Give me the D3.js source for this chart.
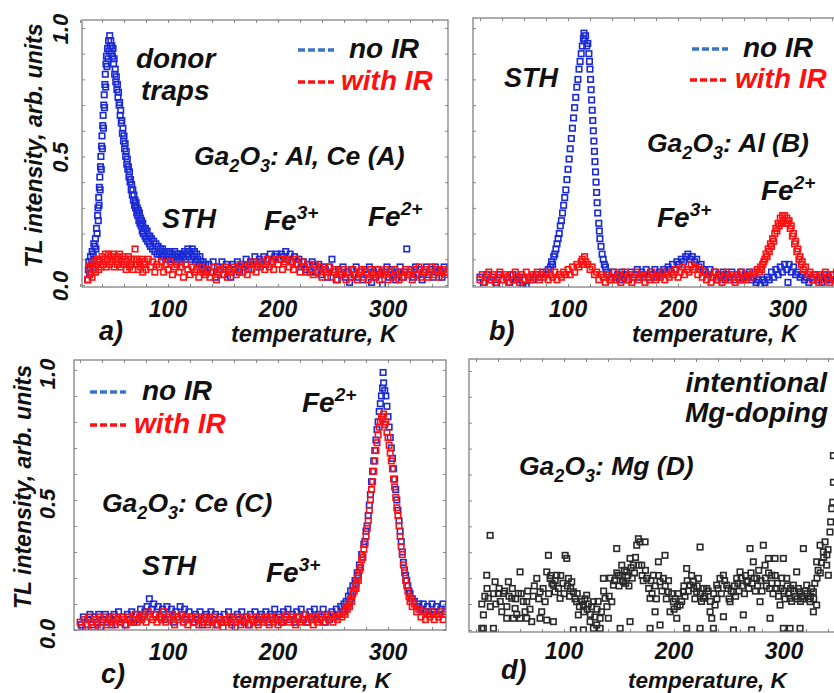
<!DOCTYPE html>
<html>
<head>
<meta charset="utf-8">
<script src="https://cdn.jsdelivr.net/npm/d3@7/dist/d3.min.js"></script>
<style>
  body { margin: 0; background: #fff; }
  svg { display: block; }
  .lbl { font-family: "Liberation Sans", Arial, sans-serif; font-weight: bold; font-style: italic; }
</style>
</head>
<body>
<svg id="chart" width="834" height="693"></svg>
<script>
// ---- tick values ----
const tempTicks = [100, 200, 300];
const intensityTicks = [0, 0.5, 1.0];

// ---- a) Ga2O3: Al, Ce (A)  [temperature K, TL intensity] ----
const noIrA = [
  [27,.02],[27.5,.06],[28,.09],[28.5,.04],[29,.07],[29.5,.11],[30,.05],[30.5,.09],[31,.13],[31.5,.08],[32,.12],[32.5,.16],[33,.1],[33.5,.15],[34,.18],[34.5,.14],
  [35,.22],[35.5,.2],[36,.27],[36.3,.3],[36.6,.25],[37,.34],[37.3,.31],[37.6,.38],[38,.42],[38.3,.37],[38.6,.46],[39,.5],[39.3,.45],[39.6,.54],[40,.58],[40.3,.53],
  [40.6,.62],[41,.66],[41.3,.61],[41.6,.7],[42,.74],[42.3,.69],[42.6,.78],[43,.82],[43.3,.77],[43.6,.86],[44,.89],[44.5,.85],[45,.92],[45.5,.88],[46,.95],[46.5,.91],
  [47,.97],[47.5,.93],[48,.95],[48.5,.9],[49,.93],[49.5,.89],[50,.92],[50.5,.86],[51,.88],[51.5,.82],[52,.84],[52.5,.79],[53,.81],[53.5,.76],[54,.78],[54.5,.73],
  [55,.75],[55.5,.7],[56,.71],[56.5,.66],[57,.68],[57.5,.63],[58,.64],[58.5,.59],[59,.61],[59.5,.56],[60,.58],[60.5,.53],[61,.55],[61.5,.5],[62,.52],[62.5,.47],
  [63,.49],[63.5,.45],[64,.46],[64.5,.42],[65,.44],[65.5,.4],[66,.41],[66.5,.37],[67,.39],[67.5,.35],[68,.37],[68.5,.33],[69,.35],[69.5,.31],[70,.33],[70.5,.3],
  [71,.32],[71.5,.28],[72,.3],[72.5,.27],[73,.29],[73.5,.25],[74,.28],[74.5,.24],[75,.26],[75.5,.23],[76,.25],[76.5,.21],[77,.24],[77.5,.2],[78,.22],[79,.19],
  [79.5,.22],[80,.18],[81,.21],[81.5,.17],[82,.19],[83,.16],[83.5,.19],[84,.15],[85,.18],[86,.14],[87,.17],[88,.13],[89,.16],[90,.12],[91,.15],[92,.12],
  [93,.14],[94,.11],[95,.14],[96,.11],[97,.13],[98,.1],[99,.13],[100,.1],[101,.12],[102,.13],[103,.1],[104,.12],[105,.1],[106,.13],[107,.11],[108,.09],
  [109,.12],[110,.1],[111,.12],[112,.09],[113,.12],[114,.11],[115,.13],[116,.1],[117,.12],[118,.14],[119,.11],[120,.13],[121,.1],[122,.14],[123,.11],[124,.13],
  [125,.09],[126,.12],[127,.1],[128,.08],[129,.11],[130,.09],[131,.07],[132,.09],[133,.06],[134,.08],[135,.05],
  [137,.08],[139,.05],[141,.09],[143,.03],[145,.07],[147,.06],[149,.09],[151,.04],[153,.08],[155,.06],[157,.03],[159,.08],[161,.06],[163,.09],[165,.05],[167,.08],
  [169,.07],[171,.1],[173,.06],[175,.09],[177,.08],[179,.11],[181,.07],[183,.1],[185,.09],[187,.11],[189,.08],[191,.1],[193,.12],[195,.09],[197,.11],[199,.12],
  [201,.1],[203,.12],[205,.11],[207,.13],[209,.1],[211,.12],[213,.09],[215,.11],[217,.08],[219,.1],[221,.07],[223,.09],[225,.06],[227,.08],[229,.05],[231,.09],
  [233,.07],[235,.05],[237,.08],[239,.04],[241,.07],[243,.06],[245,.03],[247,.07],[249,.1],[251,.05],[253,.02],[255,.06],[257,.04],[259,.07],[261,.03],[263,.05],
  [265,.01],[267,.06],[269,.04],[271,.07],[273,.03],[275,.05],[277,.02],[279,.06],[281,.04],[283,.07],[285,.01],[287,.05],[289,.03],[291,.06],[293,.04],[295,.0],
  [297,.05],[299,.07],[301,.03],[303,.06],[305,.04],[307,.02],[309,.05],[311,.07],[313,.03],[315,.05],[317,.14],[319,.04],[321,.06],[323,.03],[325,.07],[327,.04],
  [329,.06],[331,.02],[333,.05],[335,.07],[337,.04],[339,.06],[341,.03],[343,.07],[345,.05],[347,.06],[349,.03],[351,.07],[353,.05]
];
const irA = [
  [27,.02],[28,.07],[29,.04],[30,.08],[31,.03],[32,.06],[33,.09],[34,.05],[35,.08],[36,.1],[37,.06],[38,.09],[39,.07],[40,.11],[41,.08],[42,.1],
  [43,.12],[44,.07],[45,.1],[46,.12],[47,.08],[48,.11],[49,.09],[50,.12],[51,.07],[52,.1],[53,.11],[54,.08],[55,.1],[56,.12],[57,.07],[58,.09],
  [59,.11],[60,.08],[61,.1],[62,.06],[63,.09],[64,.11],[65,.07],[66,.1],[67,.08],[68,.06],[69,.1],[70,.14],[71,.08],[72,.1],[73,.06],[74,.09],
  [75,.07],[76,.1],[77,.05],[78,.08],[79,.09],[80,.06],[82,.1],[84,.07],[86,.09],[88,.05],[90,.08],[92,.07],[94,.09],[96,.05],[98,.08],[100,.06],
  [102,.09],[104,.04],[106,.07],[108,.08],[110,.05],[112,.07],[114,.03],[116,.08],[118,.06],[120,.04],[122,.07],[124,.05],[126,.06],[128,.03],[130,.07],[132,.05],
  [134,.04],[136,.06],[138,.03],[140,.05],[142,.07],[144,.02],[146,.05],[148,.06],[150,.04],[152,.07],[154,.03],[156,.06],[158,.05],[160,.07],[162,.04],[164,.06],
  [166,.08],[168,.05],[170,.07],[172,.04],[174,.08],[176,.06],[178,.09],[180,.05],[182,.08],[184,.07],[186,.09],[188,.06],[190,.1],[192,.07],[194,.09],[196,.06],
  [198,.1],[200,.08],[202,.1],[204,.06],[206,.09],[208,.1],[210,.07],[212,.09],[214,.06],[216,.1],[218,.08],[220,.05],[222,.09],[224,.07],[226,.05],[228,.08],
  [230,.06],[232,.04],[234,.08],[236,.05],[238,.07],[240,.03],[242,.06],[244,.05],[246,.07],[248,.03],[250,.05],[252,.06],[254,.02],[256,.05],[258,.04],[260,.06],
  [262,.02],[264,.05],[266,.03],[268,.06],[270,.04],[272,.02],[274,.05],[276,.06],[278,.03],[280,.05],[282,.02],[284,.06],[286,.04],[288,.03],[290,.06],[292,.02],
  [294,.05],[296,.04],[298,.06],[300,.02],[302,.05],[304,.03],[306,.06],[308,.04],[310,.02],[312,.05],[314,.03],[316,.06],[318,.04],[320,.05],[322,.02],[324,.06],
  [326,.04],[328,.07],[330,.03],[332,.05],[334,.06],[336,.03],[338,.05],[340,.07],[342,.04],[344,.06],[346,.03],[348,.05],[350,.06],[352,.04],[354,.05]
];

// ---- b) Ga2O3: Al (B) ----
const noIrB = [
  [20,.03],[23,.01],[26,.04],[29,.02],[32,.03],[35,.0],[38,.04],[41,.02],[44,.03],[47,.01],[50,.04],[53,.02],[56,.03],[59,.0],[62,-.005],[65,.03],
  [68,.02],[71,.04],[74,.03],[77,.05],[80,.04],[82,.06],[84,.07],[85,.09],[86,.08],[87,.11],[88,.12],[89,.14],[90,.16],[91,.18],[92,.2],[93,.23],
  [94,.25],[95,.28],[96,.31],[97,.34],[98,.37],[99,.41],[100,.45],[101,.49],[102,.53],[103,.57],[104,.61],[105,.65],[106,.69],[107,.73],[108,.77],[109,.8],
  [110,.84],[111,.87],[112,.9],[113,.93],[114,.96],[114.5,.98],[115,.95],[116,.97],[117,.93],[118,.94],[119,.9],[119.5,.87],[120,.84],[120.5,.8],[121,.76],[121.5,.72],
  [122,.68],[122.5,.64],[123,.6],[123.5,.56],[124,.52],[124.5,.48],[125,.44],[125.5,.4],[126,.36],[126.5,.32],[127,.28],[128,.24],[128.5,.21],[129,.18],[130,.15],[131,.12],
  [132,.1],[133,.08],[134,.07],[135,.05],[137,.04],
  [139,.02],[141,.05],[143,.03],[145,.04],[147,.02],[149,.05],[151,.03],[153,.04],[155,.02],[157,.05],[159,.03],[161,.04],[163,.06],[165,.03],[167,.05],[169,.04],
  [171,.06],[173,.03],[175,.05],[177,.04],[179,.06],[181,.03],[183,.05],[185,.04],[187,.06],[189,.05],[191,.07],[193,.06],[195,.08],[197,.06],[199,.09],[201,.08],
  [203,.1],[205,.09],[207,.11],[209,.12],[211,.1],[213,.11],[215,.09],[217,.1],[219,.07],[221,.08],[223,.06],[225,.05],[227,.04],[229,.06],[231,.03],[233,.05],
  [235,.02],[237,.04],[239,.03],[241,.05],[243,.02],[245,.04],[247,.03],[249,.05],[251,.02],[253,.04],[255,.03],[257,.05],[259,.02],[261,.04],[263,.03],[265,.05],
  [267,.02],[269,.03],[271,.01],[273,.02],[275,.0],[277,.02],[279,.01],[281,.03],[283,.02],[285,.05],[287,.03],[289,.06],[291,.04],[293,.07],[295,.05],[297,.08],
  [299,.06],[300,.01],[301,.08],[303,.05],[305,.07],[307,.04],[309,.05],[311,.03],[313,.04],[315,.02],[317,.03],[319,.01],[321,.03],[323,.02],[325,.04],[327,.02],
  [329,.03],[331,.01],[333,.04],[335,.02],[337,.03],[339,.02],[341,.04],[343,.02],[345,.03]
];
const irB = [
  [20,.02],[22,.04],[24,.01],[26,.03],[28,.05],[30,.02],[32,.04],[34,.01],[36,.03],[38,.05],[40,.02],[42,.04],[44,.03],[46,.01],[48,.04],[50,.02],
  [52,.05],[54,.03],[56,.01],[58,.04],[60,.02],[62,.05],[64,.03],[66,.02],[68,.04],[70,.03],[72,.05],[74,.02],[76,.04],[78,.03],[80,.05],[82,.02],
  [84,.04],[86,.03],[88,.05],[90,.02],[92,.04],[94,.03],[96,.05],[98,.04],[100,.06],[102,.04],[104,.07],[106,.05],[108,.08],[110,.07],[112,.09],[113,.1],
  [114,.08],[115,.11],[116,.09],[118,.08],[120,.06],[122,.07],[124,.04],[126,.05],[128,.02],[130,.04],[132,.03],[134,.01],[136,.04],[138,.02],[140,.03],[142,.05],
  [144,.02],[146,.04],[148,.01],[150,.03],[152,.05],[154,.02],[156,.04],[158,.01],[160,.03],[162,.05],[164,.02],[166,.04],[168,.03],[170,.01],[172,.04],[174,.02],
  [176,.05],[178,.03],[180,.02],[182,.04],[184,.03],[186,.05],[188,.02],[190,.04],[192,.03],[194,.05],[196,.04],[198,.06],[200,.03],[202,.05],[204,.07],[206,.04],
  [208,.06],[210,.05],[212,.08],[214,.06],[216,.07],[218,.04],[220,.06],[222,.03],[224,.05],[226,.02],[228,.04],[230,.01],[232,.03],[234,.05],[236,.02],[238,.04],
  [240,.01],[242,.03],[244,.05],[246,.02],[248,.04],[250,.03],[252,.01],[254,.04],[256,.02],[258,.05],[260,.03],[262,.02],[264,.04],[266,.03],[268,.05],[270,.04],
  [272,.06],[274,.05],[275,.07],[276,.06],[277,.08],[278,.09],[279,.1],[280,.12],[281,.11],[282,.14],[283,.13],[284,.16],[285,.15],[286,.18],[287,.17],[288,.2],
  [289,.22],[290,.21],[291,.24],[292,.23],[293,.26],[294,.24],[295,.27],[296,.25],[297,.27],[298,.24],[299,.26],[300,.24],[301,.25],[302,.22],[303,.23],[304,.19],
  [305,.2],[306,.16],[307,.17],[308,.13],[309,.14],[310,.1],[311,.11],[312,.08],[313,.09],[314,.06],[316,.07],[318,.04],[320,.05],[322,.02],[324,.04],[326,.03],
  [328,.01],[330,.04],[332,.02],[334,.05],[336,.03],[338,.01],[340,.04],[342,.02],[344,.05],[346,.03]
];

// ---- c) Ga2O3: Ce (C) ----
const noIrC = [
  [21,.02],[23,.05],[25,.0],[27,.04],[29,.06],[31,.02],[33,.05],[35,.03],[37,.06],[39,.01],[41,.04],[43,.06],[45,.03],[47,.05],[49,.02],[51,.06],
  [53,.04],[55,.07],[57,.03],[59,.05],[61,.02],[63,.06],[65,.04],[67,.07],[69,.03],[71,.06],[73,.04],[75,.08],[77,.05],[79,.07],[81,.09],[83,.12],
  [85,.08],[87,.1],[89,.06],[91,.09],[93,.05],[95,.08],[97,.04],[99,.09],[101,.06],[103,.08],[105,.03],[107,.07],[109,.05],[111,.09],[113,.06],[115,.08],
  [117,.04],[119,.07],[121,.05],[123,.03],[125,.06],[127,.04],[129,.07],[131,.02],[133,.05],[135,.06],[137,.03],[139,.07],[141,.04],[143,.06],[145,.02],[147,.05],
  [149,.03],[151,.06],[153,.04],[155,.07],[157,.03],[159,.05],[161,.01],[163,.06],[165,.04],[167,.07],[169,.03],[171,.05],[173,.02],[175,.06],[177,.04],[179,.07],
  [181,.03],[183,.05],[185,.06],[187,.04],[189,.07],[191,.03],[193,.06],[195,.05],[197,.08],[199,.04],[201,.06],[203,.03],[205,.07],[207,.05],[209,.08],[211,.04],
  [213,.06],[215,.03],[217,.07],[219,.05],[221,.08],[223,.04],[225,.06],[227,.03],[229,.07],[231,.05],[233,.08],[235,.04],[237,.06],[239,.05],[241,.08],[243,.03],
  [245,.06],[247,.04],[249,.07],[251,.05],[253,.08],[255,.06],[257,.09],[259,.07],[260,.1],[261,.08],[262,.11],[263,.09],[264,.13],[265,.11],[266,.15],[267,.13],
  [268,.17],[269,.15],[270,.19],[271,.18],[272,.22],[273,.21],[274,.25],[275,.24],[276,.29],[277,.28],[278,.33],[279,.34],[280,.38],[281,.4],[282,.44],[283,.48],
  [284,.52],[285,.57],[286,.61],[287,.65],[288,.69],[289,.73],[290,.77],[291,.8],[292,.84],[293,.87],[294,.9],[295,.93],[295.5,.99],[296,.95],[297,.92],[298,.9],
  [299,.86],[300,.82],[301,.78],[302,.74],[303,.7],[304,.66],[305,.62],[306,.58],[307,.54],[308,.5],[309,.46],[310,.42],[311,.38],[312,.34],[313,.3],[314,.26],
  [315,.23],[316,.21],[317,.19],[318,.17],[319,.15],[320,.14],[322,.12],[324,.11],[326,.09],[328,.1],[330,.08],[332,.1],[334,.07],[336,.09],[338,.06],[340,.1],
  [342,.07],[344,.09],[346,.06],[348,.08],[350,.1],[352,.07]
];
const irC = [
  [20,.03],[22,.01],[24,.04],[26,.02],[28,.05],[30,.03],[32,.01],[34,.04],[36,.02],[38,.05],[40,.03],[42,.05],[44,.02],[46,.04],[48,.03],[50,.05],
  [52,.02],[54,.04],[56,.03],[58,.05],[60,.04],[62,.02],[64,.05],[66,.03],[68,.04],[70,.06],[72,.03],[74,.05],[76,.04],[78,.06],[80,.03],[82,.07],
  [84,.05],[86,.04],[88,.06],[90,.03],[92,.05],[94,.04],[96,.07],[98,.03],[100,.05],[102,.04],[104,.06],[106,.02],[108,.05],[110,.04],[112,.06],[114,.03],
  [116,.05],[118,.02],[120,.04],[122,.05],[124,.03],[126,.05],[128,.02],[130,.04],[132,.03],[134,.05],[136,.02],[138,.04],[140,.03],[142,.05],[144,.02],[146,.04],
  [148,.03],[150,.01],[152,.04],[154,.03],[156,.05],[158,.02],[160,.04],[162,.03],[164,.05],[166,.02],[168,.04],[170,.03],[172,.05],[174,.02],[176,.04],[178,.03],
  [180,.05],[182,.02],[184,.04],[186,.03],[188,.05],[190,.04],[192,.02],[194,.05],[196,.03],[198,.04],[200,.02],[202,.05],[204,.03],[206,.04],[208,.06],[210,.03],
  [212,.05],[214,.04],[216,.02],[218,.05],[220,.03],[222,.04],[224,.06],[226,.03],[228,.05],[230,.04],[232,.02],[234,.05],[236,.03],[238,.04],[240,.06],[242,.03],
  [244,.05],[246,.04],[248,.06],[250,.03],[252,.05],[254,.04],[256,.06],[258,.05],[260,.07],[261,.06],[262,.09],[263,.08],[264,.1],[265,.09],[266,.12],[267,.11],
  [268,.14],[269,.15],[270,.17],[271,.16],[272,.2],[273,.19],[274,.23],[275,.24],[276,.27],[277,.28],[278,.31],[279,.33],[280,.36],[281,.39],[282,.42],[283,.46],
  [284,.5],[285,.54],[286,.57],[287,.61],[288,.65],[289,.69],[290,.72],[291,.75],[292,.78],[293,.8],[294,.82],[295,.81],[296,.83],[297,.79],[298,.8],[299,.76],
  [300,.74],[301,.71],[302,.68],[303,.65],[304,.62],[305,.58],[306,.55],[307,.51],[308,.47],[309,.44],[310,.4],[311,.36],[312,.32],[313,.29],[314,.25],[315,.22],
  [316,.19],[317,.17],[318,.15],[319,.13],[320,.11],[321,.12],[322,.09],[324,.1],[326,.07],[328,.08],[330,.05],[332,.07],[334,.04],[336,.06],[338,.05],[340,.07],
  [342,.04],[344,.06],[346,.05],[348,.07],[350,.04],[352,.06]
];

// ---- d) Ga2O3: Mg (D) ----
const mgD = [
  [25.2,.1],[26.7,.058],[25.2,.006],[29.7,.211],[32.8,.365],[31.2,.122],[26.7,.006],[35.8,.006],[37.3,.186],[40.3,.141],[43.4,.07],[44.9,.141],[49.4,.186],[52.5,.122],
  [55.5,.083],[60,.224],[58.5,.141],[66.1,.109],[64.6,.07],[70.6,.032],[75.2,.199],[78.2,.147],[79.7,.07],[82.8,.109],[85.8,.288],[84.3,.224],[87.3,.199],[90.3,.173],
  [91.8,.147],[93.4,.211],[96.4,.122],[101,.288],[102.5,.276],[104,.199],[107,.186],[108.5,.147],[111.5,.109],[113,.058],[117.6,.096],[120.6,.134],[123.7,.032],[126.7,.109],
  [129.7,.019],[132.8,.045],[135.8,.199],[137.3,.122],[140.3,.045],[143.4,.109],[144.9,.173],[147.9,.314],[149.4,.211],[152.5,.25],[154,.186],[157,.224],[160,.276],[163,.25],
  [166.1,.327],[167.6,.352],[169.1,.34],[170.6,.25],[173.7,.34],[175.2,.199],[178.2,.122],[181.2,.211],[182.8,.07],[185.8,.263],[187.3,.186],[190.3,.199],[191.8,.288],[194.9,.147],
  [196.4,.07],[199.4,.109],[202.5,.045],[205.5,.096],[208.5,.147],[211.5,.237],[214.6,.173],[217.6,.186],[220.6,.147],[222.2,.199],[223.7,.32],[226.7,.122],[229.7,.16],[232.8,.07],
  [234.3,.045],[237.3,.096],[238.8,.173],[241.8,.199],[244.9,.211],[247.9,.173],[251,.109],[254,.147],[257,.199],[260,.224],[263,.058],[266.1,.186],[269.1,.314],[272.1,.263],
  [275.2,.199],[278.2,.109],[281.2,.327],[282.8,.25],[285.8,.276],[288.8,.211],[291.8,.276],[293.4,.16],[296.4,.096],[299.4,.276],[302.5,.199],[305.5,.122],[308.5,.173],[311.5,.224],
  [314.6,.147],[317.6,.314],[320.6,.173],[323.7,.109],[326.7,.147],[329.7,.263],[332.8,.327],[335.8,.301],[337.3,.34],[338.8,.25],[340.3,.211],[341.8,.378],[342.4,.417],[343.4,.468],
  [344.3,.493],[344.9,.57],[344.9,.673],
  [47.9,.045],[54,.045],[60,.045],[66.1,.045],[78.2,.045],[84.3,.038],[90.3,.032],[108.5,0],[117.6,0],[126.7,.006],[132.8,.006],[151,.006],[160,.032],[178.2,.006],
  [187.3,.019],[211.5,.006],[223.7,.006],[235.8,.006],[244.9,.051],[254,0],[270.6,0],[287.3,.045],[299.4,.006],[305.5,.006],[314.6,.006],[326.7,.07],[329.7,.096],
  [28,.13],[30,.16],[33,.09],[36,.14],[38,.1],[41,.16],[42,.11],[46,.15],[48,.09],[50,.13],[53,.16],[56,.12],[57,.06],[61,.14],[63,.11],[67,.15],
  [69,.08],[72,.13],[73,.17],[77,.12],[81,.16],[86,.14],[88,.21],[89,.18],[92,.19],[95,.16],[97,.21],[99,.18],[100,.14],[103,.17],[105,.13],[106,.16],
  [110,.12],[112,.14],[114,.09],[116,.11],[118,.07],[119,.12],[121,.08],[122,.1],[124,.06],[125,.09],[128,.05],[130,.08],[131,.11],[134,.07],[136,.15],[139,.09],
  [141,.13],[142,.2],[146,.19],[148,.22],[150,.17],[151,.21],[153,.19],[155,.23],[156,.18],[158,.21],[159,.17],[161,.24],[162,.2],[164,.22],[165,.28],[168,.25],
  [171,.21],[172,.19],[174,.23],[177,.16],[179,.19],[180,.14],[183,.17],[184,.12],[186,.21],[189,.15],[192,.17],[193,.12],[195,.19],[198,.14],[200,.08],[201,.12],
  [203,.09],[204,.14],[207,.11],[209,.17],[210,.13],[212,.19],[213,.15],[216,.21],[218,.16],[219,.12],[221,.17],[224,.14],[225,.11],[227,.16],[228,.13],[231,.15],
  [233,.11],[236,.14],[239,.12],[240,.16],[243,.14],[246,.19],[249,.16],[250,.12],[252,.15],[255,.17],[256,.13],[258,.18],[259,.15],[261,.2],[262,.17],[264,.14],
  [265,.21],[267,.19],[268,.16],[270,.22],[271,.18],[273,.2],[274,.15],[276,.17],[277,.23],[279,.19],[280,.15],[283,.2],[284,.17],[286,.22],[287,.16],[289,.18],
  [290,.14],[292,.21],[294,.18],[295,.13],[297,.16],[298,.2],[300,.15],[301,.12],[303,.17],[304,.14],[306,.16],[307,.11],[309,.15],[310,.13],[312,.12],[313,.16],
  [315,.11],[316,.13],[318,.12],[319,.15],[321,.14],[322,.12],[324,.13],[325,.16],[327,.12],[328,.18],[330,.2],[331,.23],[333,.22],[334,.26],[336,.28],[339,.29],[340,.31]
];

const BLUE = '#1a2ad6', RED = '#ff1010', BLACK = '#2a2a2a';
const LEG_BLUE = '#3b74c6';

const svg = d3.select('#chart');
svg.append('rect').attr('width', 834).attr('height', 693).attr('fill', '#fff');

// panel layout (pixel frames and axis domains)
const panels = [
  { key: 'a', frameX: [82, 448], frameY: [287, 20], xDom: [21.8, 354.5], yDom: [-0.008, 1.031],
    series: [[noIrA, BLUE], [irA, RED]], yLabels: { x: 68, dy: 1 }, yTitle: { x: 42 }, tickY: 317,
    letter: [99, 340], tempLabel: [231, 342], tempSize: 23.5 },
  { key: 'b', frameX: [473, 839], frameY: [287, 18], xDom: [13.6, 346.4], yDom: [-0.008, 1.039],
    series: [[noIrB, BLUE], [irB, RED]], tickY: 317, letter: [489, 340], tempLabel: [632, 342], tempSize: 23.5 },
  { key: 'c', frameX: [74, 446], frameY: [630, 360], xDom: [14.5, 352.7], yDom: [0, 1.038],
    series: [[noIrC, BLUE], [irC, RED]], yLabels: { x: 55, dy: 4 }, yTitle: { x: 31 }, tickY: 660,
    letter: [101, 683], tempLabel: [232, 688], tempSize: 22.5 },
  { key: 'd', frameX: [469, 839], frameY: [632, 359], xDom: [13.6, 350], yDom: [-0.008, 1.046],
    series: [[mgD, BLACK]], tickY: 659, letter: [501, 679], tempLabel: [628, 688], tempSize: 22.5 }
];

function addText(g, x, y, parts, size, color, anchor) {
  const t = g.append('text').attr('class', 'lbl').attr('x', x).attr('y', y)
    .attr('font-size', size).attr('fill', color || '#111')
    .attr('text-anchor', anchor || 'start');
  let shift = 0;
  parts.forEach(p => {
    const [str, kind] = Array.isArray(p) ? p : [p, 'n'];
    let target = 0;
    if (kind === 'sub') target = size * 0.28;
    if (kind === 'sup') target = -size * 0.38;
    const s = t.append('tspan').text(str).attr('dy', target - shift);
    if (kind !== 'n') s.attr('font-size', size * 0.68);
    shift = target;
  });
  return t;
}

function legend(g, x, y, color, label, textColor, tx) {
  g.append('line').attr('x1', x).attr('x2', x + 36).attr('y1', y).attr('y2', y)
    .attr('stroke', color).attr('stroke-width', 3.5).attr('stroke-dasharray', '7,3');
  addText(g, tx, y + 8, [label], 28, textColor);
}

panels.forEach((p, i) => {
  const x = d3.scaleLinear().domain(p.xDom).range(p.frameX);
  const y = d3.scaleLinear().domain(p.yDom).range(p.frameY);
  const g = svg.append('g');
  const [x0, x1] = p.frameX, [yb, yt] = p.frameY;

  g.append('clipPath').attr('id', 'clip' + i).append('rect')
    .attr('x', x0).attr('y', yt).attr('width', x1 - x0).attr('height', yb - yt);

  // inward ticks on all four sides
  const xt = d3.range(20, 351, 20);
  const yTickVals = d3.range(0, 1.01, 0.1);
  const tickStyle = s => s.call(a => a.select('.domain').remove())
    .call(a => a.selectAll('line').attr('stroke', '#888'))
    .call(a => a.selectAll('text').remove());
  g.append('g').attr('transform', `translate(0,${yb})`)
    .call(d3.axisBottom(x).tickValues(xt).tickSize(-3)).call(tickStyle);
  g.append('g').attr('transform', `translate(0,${yt})`)
    .call(d3.axisTop(x).tickValues(xt).tickSize(-3)).call(tickStyle);
  g.append('g').attr('transform', `translate(${x0},0)`)
    .call(d3.axisLeft(y).tickValues(yTickVals).tickSize(-3)).call(tickStyle);
  g.append('g').attr('transform', `translate(${x1},0)`)
    .call(d3.axisRight(y).tickValues(yTickVals).tickSize(-3)).call(tickStyle);

  // data squares
  const dg = g.append('g').attr('clip-path', `url(#clip${i})`);
  p.series.forEach(([data, color]) => {
    dg.selectAll(null).data(data).join('rect')
      .attr('x', d => x(d[0]) - 2.75).attr('y', d => y(d[1]) - 2.75)
      .attr('width', 5.5).attr('height', 5.5)
      .attr('fill', 'none').attr('stroke', color).attr('stroke-width', 1.6);
  });

  // frame
  g.append('rect').attr('x', x0).attr('y', yt).attr('width', x1 - x0).attr('height', yb - yt)
    .attr('fill', 'none').attr('stroke', '#777').attr('stroke-width', 1.2);

  // temperature tick labels
  tempTicks.forEach(t => addText(g, x(t), p.tickY, [String(t)], 23, '#111', 'middle'));
  addText(g, p.letter[0], p.letter[1], [p.key + ')'], 27);
  addText(g, p.tempLabel[0], p.tempLabel[1], ['temperature, K'], p.tempSize);

  if (p.yLabels) {
    intensityTicks.forEach(v => {
      g.append('text').attr('class', 'lbl').attr('font-size', 22).attr('fill', '#111')
        .attr('text-anchor', 'middle')
        .attr('transform', `translate(${p.yLabels.x},${y(v) + p.yLabels.dy}) rotate(-90)`)
        .text(d3.format('.1f')(v));
    });
    const mid = (yb + yt) / 2 - 8;
    g.append('text').attr('class', 'lbl').attr('font-size', 23).attr('fill', '#111')
      .attr('text-anchor', 'middle')
      .attr('transform', `translate(${p.yTitle.x},${mid}) rotate(-90)`)
      .text('TL intensity, arb. units');
  }
});

// annotations
const ann = svg.append('g');
// a)
addText(ann, 136, 68, ['donor'], 28);
addText(ann, 141, 100, ['traps'], 28);
legend(ann, 298, 50, LEG_BLUE, 'no IR', '#111', 349);
legend(ann, 298, 82, RED, 'with IR', RED, 341);
addText(ann, 194, 165, ['Ga', ['2', 'sub'], 'O', ['3', 'sub'], ': Al, Ce (A)'], 26.5);
addText(ann, 162, 228, ['STH'], 27);
addText(ann, 264, 230, ['Fe', ['3+', 'sup']], 28);
addText(ann, 368, 226, ['Fe', ['2+', 'sup']], 28);
// b)
legend(ann, 692, 49, LEG_BLUE, 'no IR', '#111', 743);
legend(ann, 690, 80, RED, 'with IR', RED, 735);
addText(ann, 504, 87, ['STH'], 27);
addText(ann, 647, 152, ['Ga', ['2', 'sub'], 'O', ['3', 'sub'], ': Al (B)'], 26.5);
addText(ann, 657, 227, ['Fe', ['3+', 'sup']], 28);
addText(ann, 761, 200, ['Fe', ['2+', 'sup']], 28);
// c)
legend(ann, 90, 392, LEG_BLUE, 'no IR', '#111', 142);
legend(ann, 90, 425, RED, 'with IR', RED, 134);
addText(ann, 302, 412, ['Fe', ['2+', 'sup']], 28);
addText(ann, 102, 512, ['Ga', ['2', 'sub'], 'O', ['3', 'sub'], ': Ce (C)'], 26.5);
addText(ann, 142, 575, ['STH'], 27);
addText(ann, 266, 582, ['Fe', ['3+', 'sup']], 28);
// d)
addText(ann, 827, 392, ['intentional'], 28, '#111', 'end');
addText(ann, 828, 422, ['Mg-doping'], 28, '#111', 'end');
addText(ann, 519, 475, ['Ga', ['2', 'sub'], 'O', ['3', 'sub'], ': Mg (D)'], 26.5);
</script>
</body>
</html>
